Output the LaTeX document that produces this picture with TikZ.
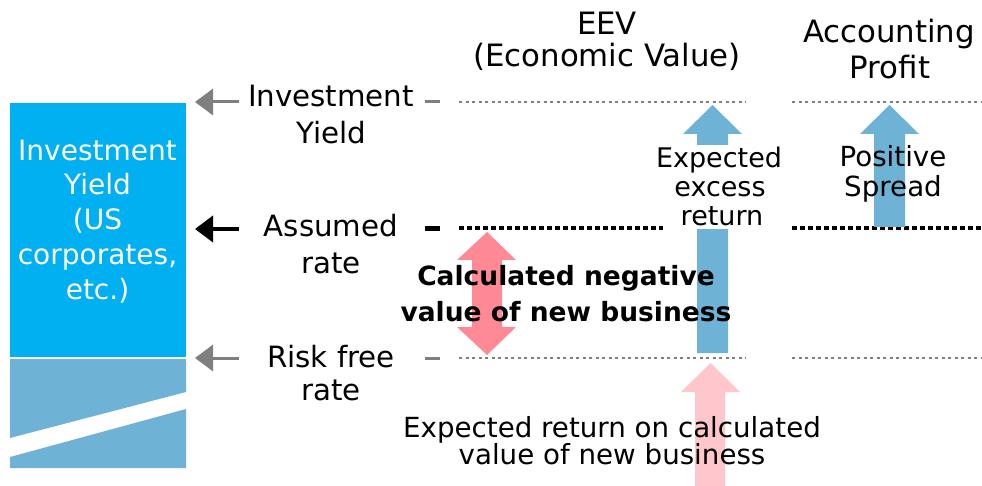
\documentclass[tikz,border=0pt]{standalone}
\usepackage{fontspec}
\setmainfont{DejaVu Sans}
\usetikzlibrary{arrows.meta}
\definecolor{boxblue}{HTML}{00B0F0}
\definecolor{softblue}{HTML}{6EB2D6}
\definecolor{pinkarrow}{HTML}{FF8A95}
\definecolor{lightpink}{HTML}{FFC6CC}
\definecolor{lgray}{HTML}{7F7F7F}
\tikzset{
  txt/.style={inner sep=0pt, anchor=base, font=\fontsize{27}{34}\selectfont},
  mtxt/.style={inner sep=0pt, anchor=base, font=\fontsize{27.7}{34}\selectfont},
  lbl/.style={inner sep=0pt, anchor=base, font=\fontsize{29.3}{34}\selectfont},
  hdr/.style={inner sep=0pt, anchor=base, font=\fontsize{30.8}{34}\selectfont},
  wtxt/.style={inner sep=0pt, anchor=base, text=white, font=\fontsize{28}{34}\selectfont},
  btxt/.style={inner sep=0pt, anchor=base, font=\fontsize{26.5}{34}\bfseries\selectfont},
  grayarrow/.style={draw=lgray, line width=3pt, -{Triangle[length=18pt,width=26pt]}},
  blackarrow/.style={draw=black, line width=4pt, -{Triangle[length=18pt,width=26pt]}},
  graydash/.style={draw=lgray, line width=3pt},
  blackdash/.style={draw=black, line width=5pt},
  graydots/.style={draw=lgray, line width=2.5pt, dash pattern=on 3pt off 3.5pt},
  blackdots/.style={draw=black, line width=4pt, dash pattern=on 4.5pt off 3.5pt},
}
\begin{document}
\begin{tikzpicture}[x=1pt,y=-1pt]
\useasboundingbox (0,0) rectangle (982,486);
% left box
\fill[boxblue] (10,103) rectangle (186,357);
\fill[softblue] (10,359) -- (186,359) -- (186,392) -- (10,438) -- cycle;
\fill[softblue] (10,457) -- (186,409) -- (186,468) -- (10,468) -- cycle;
\node[wtxt] (b1) at (97.5,161) {Investment};
\node[wtxt] (b2) at (97.5,195) {Yield};
\node[wtxt] (b3) at (97.5,230) {(US};
\node[wtxt] (b4) at (97.5,265) {corporates,};
\node[wtxt] (b5) at (97.5,299) {etc.)};
% labels
\node[lbl] (iy1) at (331,107) {Investment};
\node[lbl] (iy2) at (331,144) {Yield};
\node[lbl] (ar1) at (331,237) {Assumed};
\node[lbl] (ar2) at (331,273) {rate};
\node[lbl] (rf1) at (331,367) {Risk free};
\node[lbl] (rf2) at (331,400) {rate};
% left arrows
\coordinate (iyS) at (239,102); \coordinate (iyE) at (195,102);
\coordinate (arS) at (239,229); \coordinate (arE) at (195,229);
\coordinate (rfS) at (239,358); \coordinate (rfE) at (195,358);
\draw[grayarrow] (iyS) -- (iyE);
\draw[blackarrow] (arS) -- (arE);
\draw[grayarrow] (rfS) -- (rfE);
% short dashes
\draw[graydash] (425,102) -- (440,102);
\draw[blackdash] (425,228.5) -- (440,228.5);
\draw[graydash] (425,358) -- (440,358);
% dotted lines
\draw[graydots] (459,102) -- (746,102);
\draw[graydots] (792,102) -- (982,102);
\draw[blackdots] (459,228.5) -- (663,228.5);
\draw[blackdots] (792,228.5) -- (982,228.5);
\draw[graydots] (459,358) -- (746,358);
\draw[graydots] (792,358) -- (982,358);
% headers
\node[hdr] (h1) at (607,35) {EEV};
\node[hdr] (h2) at (607,67) {(Economic Value)};
\node[hdr] (h3) at (889,43) {Accounting};
\node[hdr] (h4) at (890,79) {Profit};
% EEV blue arrow
\fill[softblue] (697,353) -- (697,134) -- (683,134) -- (712.5,105) -- (742,134) -- (728,134) -- (728,353) -- cycle;
\fill[white] (690,145) rectangle (735,229);
\node[txt] (e1) at (719,168) {Expected};
\node[txt] (e2) at (720,197) {excess};
\node[txt] (e3) at (722,226) {return};
% Accounting blue arrow
\fill[softblue] (874,227) -- (874,134) -- (860,134) -- (889.5,105) -- (919,134) -- (905,134) -- (905,227) -- cycle;
\node[mtxt] (p1) at (893,167) {Positive};
\node[mtxt] (p2) at (893,197) {Spread};
% pink double arrow
\fill[pinkarrow] (487,232) -- (516,260) -- (502,260) -- (502,327) -- (516,327) -- (487,355) -- (457,327) -- (472,327) -- (472,260) -- (457,260) -- cycle;
\node[btxt] (c1) at (566,285) {Calculated negative};
\node[btxt] (c2) at (566,321) {value of new business};
% light pink arrow
\fill[lightpink] (695,486) -- (695,392) -- (681,392) -- (710.5,363) -- (740,392) -- (725,392) -- (725,486) -- cycle;
\node[mtxt] (x1) at (612,437) {Expected return on calculated};
\node[mtxt] (x2) at (612,464) {value of new business};
\end{tikzpicture}
\end{document}
